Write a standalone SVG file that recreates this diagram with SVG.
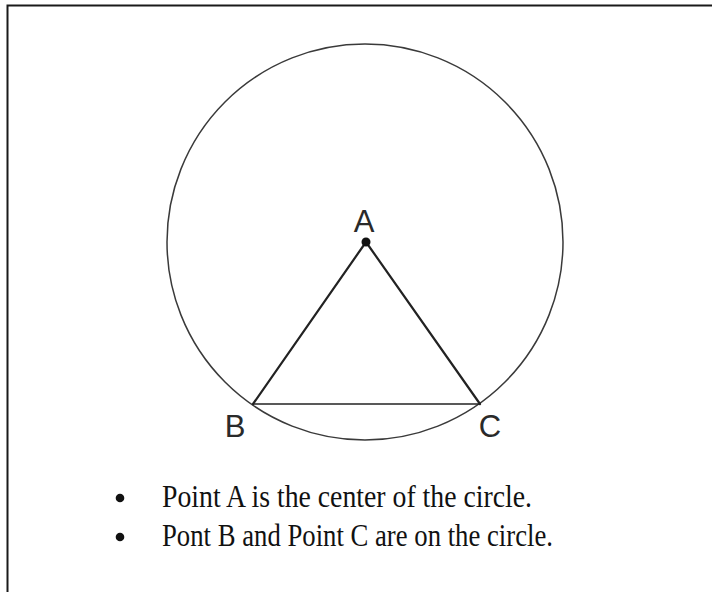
<svg xmlns="http://www.w3.org/2000/svg" width="712" height="592" viewBox="0 0 712 592">
<style>
.frame{fill:none;stroke:#1a1a1a;stroke-width:2}
.circ{fill:none;stroke:#3a3a3a;stroke-width:1.5}
.edge{fill:none;stroke:#222;stroke-width:2.2;stroke-linecap:round}
.base{fill:none;stroke:#222;stroke-width:1.6}
.lbl{font-family:"Liberation Sans",Arial,sans-serif;font-size:31px;fill:#2a2a2a;text-anchor:middle}
.txt{font-family:"Liberation Serif","DejaVu Serif",serif;font-size:31px;fill:#111}
</style>
<rect width="712" height="592" fill="#fff"/>
<path class="frame" d="M7.5 592 V5.5 H712"/>
<g id="circle"><circle class="circ" cx="365" cy="242" r="198"/></g>
<g id="connectors">
<line class="edge" x1="366" y1="242" x2="253" y2="404"/>
<line class="edge" x1="366" y1="242" x2="480" y2="404"/>
<line class="base" x1="253" y1="404" x2="480" y2="404"/>
</g>
<g id="A"><circle cx="366" cy="242" r="4.5" fill="#111"/><text class="lbl" x="364" y="232">A</text></g>
<g id="B"><text class="lbl" x="235" y="437">B</text></g>
<g id="C"><text class="lbl" x="490" y="437">C</text></g>
<g id="notes">
<circle cx="120" cy="498" r="4.3" fill="#111"/>
<text class="txt" x="162" y="507" textLength="370" lengthAdjust="spacingAndGlyphs">Point A is the center of the circle.</text>
<circle cx="120" cy="537" r="4.3" fill="#111"/>
<text class="txt" x="162" y="546" textLength="391" lengthAdjust="spacingAndGlyphs">Pont B and Point C are on the circle.</text>
</g>
</svg>
